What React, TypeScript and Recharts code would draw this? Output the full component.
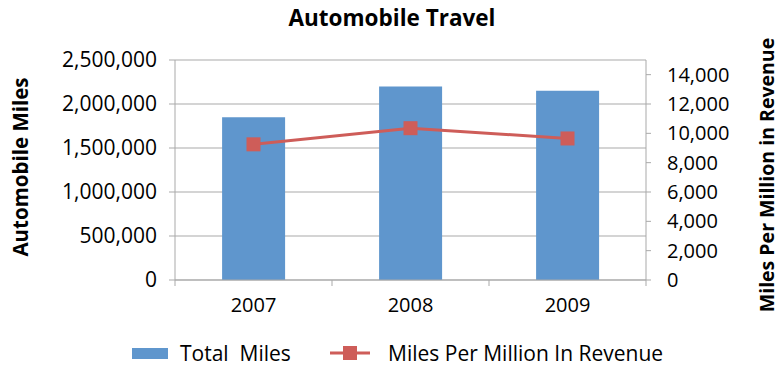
import { ComposedChart, Bar, Line, XAxis, YAxis, CartesianGrid, Legend } from 'recharts';

const years = ['2007', '2008', '2009'];
const totalMiles = [1850000, 2200000, 2150000];
const milesPerMillion = [9250, 10350, 9650];
const leftTicks = [0, 500000, 1000000, 1500000, 2000000, 2500000];
const rightTicks = [0, 2000, 4000, 6000, 8000, 10000, 12000, 14000];

const data = years.map((year, i) => ({
  year,
  total: totalMiles[i],
  perMillion: milesPerMillion[i],
}));

const BLUE = '#5F96CD';
const RED = '#CE5D59';
const GRID = '#A9A9A9';
const FONT = '"Open Sans", sans-serif';

const fmt = (v: number) => v.toLocaleString('en-US');

const YearTick = (props: any) => {
  const { x, y, payload, index, width, visibleTicksCount } = props;
  const band = width / visibleTicksCount;
  const axisY = y - 18;
  return (
    <g>
      <text x={x} y={y} dy="0.71em" textAnchor="middle" fill="#000" fontSize={20}>
        {payload.value}
      </text>
      <line x1={x - band / 2} x2={x - band / 2} y1={axisY} y2={axisY + 6} stroke={GRID} />
      {index === visibleTicksCount - 1 && (
        <line x1={x + band / 2} x2={x + band / 2} y1={axisY} y2={axisY + 6} stroke={GRID} />
      )}
    </g>
  );
};

const SquareDot = (props: any) => {
  const { cx, cy, index } = props;
  return <rect key={index} x={cx - 7} y={cy - 7} width={14} height={14} fill={RED} />;
};

const LeftTitle = (props: any) => {
  const { viewBox } = props;
  const x = viewBox.x + 28;
  const y = viewBox.y + viewBox.height / 2 - 3;
  return (
    <text x={x} y={y} transform={`rotate(-90, ${x}, ${y})`} textAnchor="middle" fontSize={20.5} fontWeight="bold" fill="#000">
      Automobile Miles
    </text>
  );
};

const RightTitle = (props: any) => {
  const { viewBox } = props;
  const x = viewBox.x + viewBox.width - 7;
  const y = viewBox.y + viewBox.height / 2 + 5;
  return (
    <text x={x} y={y} transform={`rotate(-90, ${x}, ${y})`} textAnchor="middle" fontSize={19.5} fontWeight="bold" fill="#000">
      Miles Per Million in Revenue
    </text>
  );
};

const LegendContent = () => (
  <div style={{ position: 'relative', width: 781, height: 26, fontSize: 21, lineHeight: '26px', color: '#000' }}>
    <div style={{ position: 'absolute', left: 132, top: 8, width: 36, height: 11, background: BLUE }} />
    <div style={{ position: 'absolute', left: 180, top: 0, whiteSpace: 'pre' }}>Total  Miles</div>
    <svg style={{ position: 'absolute', left: 330, top: 0 }} width={40} height={26}>
      <line x1={0} x2={40} y1={13} y2={13} stroke={RED} strokeWidth={3} />
      <rect x={13} y={6} width={14} height={14} fill={RED} />
    </svg>
    <div style={{ position: 'absolute', left: 388, top: 0, whiteSpace: 'pre' }}>Miles Per Million In Revenue</div>
  </div>
);

export default function App() {
  return (
    <div style={{ position: 'absolute', left: 0, top: 0, width: 781, height: 367, fontFamily: FONT, background: '#fff', overflow: 'hidden' }}>
      <div style={{ position: 'absolute', left: 0, top: 4, width: 784, textAlign: 'center', fontSize: 22.5, fontWeight: 'bold', lineHeight: '28px', color: '#000' }}>
        Automobile Travel
      </div>
      <ComposedChart width={781} height={367} data={data} margin={{ top: 60, right: 0, left: 0, bottom: 47 }} barCategoryGap="30%">
        <CartesianGrid yAxisId="left" vertical={false} stroke={GRID} />
        <XAxis
          dataKey="year"
          height={40}
          axisLine={{ stroke: GRID }}
          tickLine={false}
          tickSize={6}
          tickMargin={12}
          tick={<YearTick />}
          interval={0}
        />
        <YAxis
          yAxisId="left"
          orientation="left"
          width={175}
          domain={[0, 2500000]}
          ticks={leftTicks}
          tickFormatter={fmt}
          tickSize={6}
          tickMargin={12}
          axisLine={{ stroke: GRID }}
          tickLine={{ stroke: GRID }}
          tick={{ fill: '#000', fontSize: 21 }}
          interval={0}
          label={<LeftTitle />}
        />
        <YAxis
          yAxisId="right"
          orientation="right"
          width={135}
          domain={[0, 15000]}
          ticks={rightTicks}
          tickFormatter={fmt}
          tickSize={5}
          tickMargin={16}
          axisLine={{ stroke: GRID }}
          tickLine={{ stroke: GRID }}
          tick={{ fill: '#000', fontSize: 20, textAnchor: 'start' }}
          interval={0}
          label={<RightTitle />}
        />
        <Bar yAxisId="left" dataKey="total" name="Total  Miles" fill={BLUE} isAnimationActive={false} />
        <Line
          yAxisId="right"
          dataKey="perMillion"
          name="Miles Per Million In Revenue"
          stroke={RED}
          strokeWidth={3}
          dot={<SquareDot />}
          activeDot={false}
          isAnimationActive={false}
        />
        <Legend
          layout="horizontal"
          verticalAlign="middle"
          align="center"
          content={<LegendContent />}
          wrapperStyle={{ top: 340, left: 0, width: 781, height: 26 }}
        />
      </ComposedChart>
    </div>
  );
}
